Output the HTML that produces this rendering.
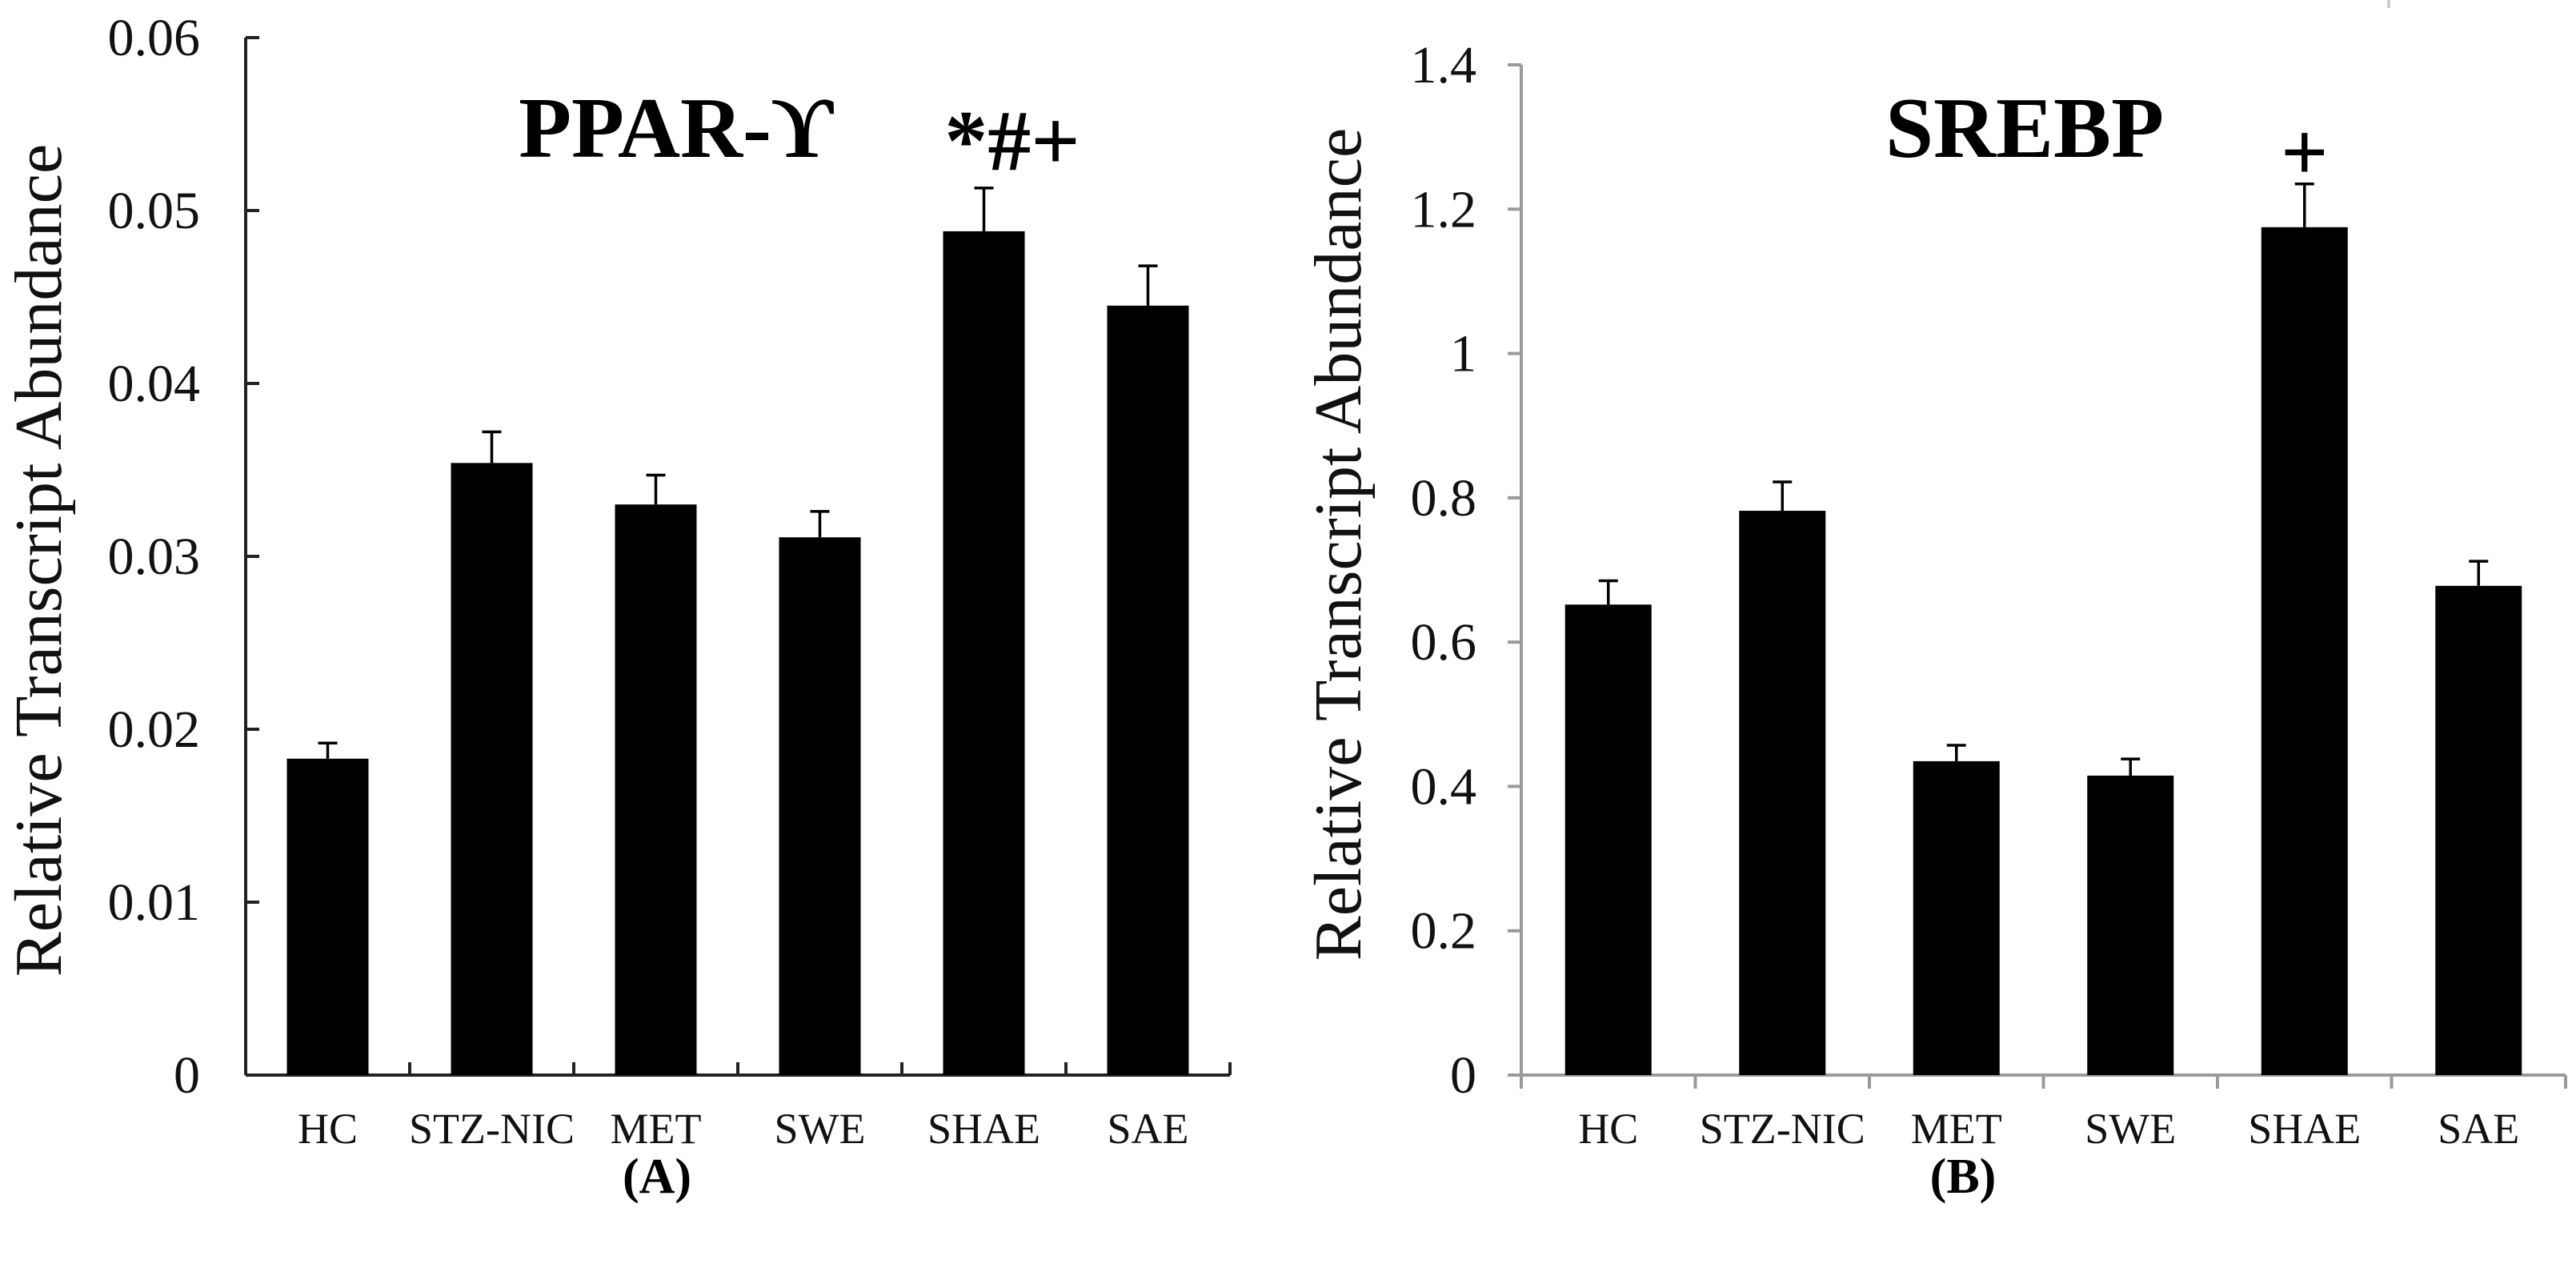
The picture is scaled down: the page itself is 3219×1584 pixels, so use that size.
<!DOCTYPE html>
<html><head><meta charset="utf-8"><style>
html,body{margin:0;padding:0;background:#fff;}
svg{display:block;font-family:"Liberation Serif","Times New Roman",serif;}
</style></head><body>
<svg id="fig" width="3219" height="1584" viewBox="0 0 3219 1584" xmlns="http://www.w3.org/2000/svg">
<g id="panelA"></g>
<g id="panelB"></g>
</svg>
<script>
const categories = ["HC","STZ-NIC","MET","SWE","SHAE","SAE"];
const pparValues = [0.0183,0.0354,0.0330,0.0311,0.0488,0.0445];
const pparErrors = [0.0009,0.0018,0.0017,0.0015,0.0025,0.0023];
const pparTicks = ["0","0.01","0.02","0.03","0.04","0.05","0.06"];
const srebpValues = [0.652,0.782,0.435,0.415,1.175,0.678];
const srebpErrors = [0.033,0.040,0.022,0.023,0.060,0.034];
const srebpTicks = ["0","0.2","0.4","0.6","0.8","1","1.2","1.4"];

const NS="http://www.w3.org/2000/svg";
function mk(parent,tag,attrs,text){
  const e=document.createElementNS(NS,tag);
  for(const k in attrs)e.setAttribute(k,attrs[k]);
  if(text!==undefined)e.textContent=text;
  parent.appendChild(e);return e;
}
function drawPanel(g,cfg){
  const {x0,x1,y0,y1,vmax,values,errors,ticks,barW,axisColor,inward,labelRight,tickFont,yTitleX,yTitleY,catLabelY} = cfg;
  const yScale=v=>y0-(v/vmax)*(y0-y1);
  const bw=(x1-x0)/categories.length;
  const xCenter=i=>x0+bw*(i+0.5);
  const ya=mk(g,'line',{x1:x0,y1:y1,x2:x0,y2:y0,stroke:axisColor,'stroke-width':4});
  
  
  const xa=mk(g,'line',{x1:x0,y1:y0,x2:x1,y2:y0,stroke:axisColor,'stroke-width':4});
  
  
  ticks.forEach((t,i)=>{
    const v=parseFloat(t), y=yScale(v);
    const tk=mk(g,'line',{x1:x0,y1:y,x2:inward?x0+17:x0-17,y2:y,stroke:axisColor,'stroke-width':4});
    
    
    const tl=mk(g,'text',{x:labelRight,y:y+22,'text-anchor':'end','font-size':tickFont,fill:'#111'},t);
    
    
  });
  for(let i=0;i<=categories.length;i++){
    const x=x0+bw*i;
    const tk=mk(g,'line',{x1:x,y1:y0,x2:x,y2:inward?y0-16:y0+17,stroke:axisColor,'stroke-width':4});
    
    
  }
  categories.forEach((c,i)=>{
    const cx=xCenter(i), top=yScale(values[i]), et=yScale(values[i]+errors[i]);
    const el=mk(g,'line',{x1:cx,y1:top,x2:cx,y2:et,stroke:'#000','stroke-width':3.5});
    
    
    const cap=mk(g,'line',{x1:cx-12,y1:et,x2:cx+12,y2:et,stroke:'#000','stroke-width':3.5});
    
    
    const r=mk(g,'rect',{x:cx-barW/2,y:top,width:barW,height:y0-top,fill:'#000'});
    
    
    const lb=mk(g,'text',{x:cx,y:catLabelY,'text-anchor':'middle','font-size':54,fill:'#111'},c);
    
    
  });
  const yt=mk(g,'text',{x:yTitleX,y:yTitleY,'text-anchor':'middle','font-size':84,fill:'#111',transform:`rotate(-90 ${yTitleX} ${yTitleY})`},'Relative Transcript Abundance');
  
  
  return {xCenter,yScale};
}
const gA=document.getElementById('panelA');
const A=drawPanel(gA,{x0:307,x1:1537,y0:1343,y1:47,vmax:0.06,values:pparValues,errors:pparErrors,ticks:pparTicks,barW:102,axisColor:'#222',inward:true,labelRight:250,tickFont:66,yTitleX:76,yTitleY:700,catLabelY:1428});
mk(gA,'text',{x:845,y:196,'text-anchor':'middle','font-size':108,'font-weight':'bold',fill:'#000',},'PPAR-ϒ');
mk(gA,'text',{x:1265,y:212,'text-anchor':'middle','font-size':108,'font-weight':'bold',fill:'#000',},'*#+');
mk(gA,'text',{x:821,y:1490,'text-anchor':'middle','font-size':62,'font-weight':'bold',fill:'#000',},'(A)');

const gB=document.getElementById('panelB');
const B=drawPanel(gB,{x0:1901,x1:3206,y0:1343,y1:81,vmax:1.4,values:srebpValues,errors:srebpErrors,ticks:srebpTicks,barW:108,axisColor:'#9a9a9a',inward:false,labelRight:1845,tickFont:66,yTitleX:1700,yTitleY:680,catLabelY:1428});
mk(gB,'text',{x:2530,y:196,'text-anchor':'middle','font-size':108,'font-weight':'bold',fill:'#000',},'SREBP');
mk(gB,'text',{x:B.xCenter(4),y:225,'text-anchor':'middle','font-size':104,'font-weight':'bold',fill:'#000',},'+');
mk(gB,'text',{x:2453,y:1490,'text-anchor':'middle','font-size':62,'font-weight':'bold',fill:'#000',},'(B)');
mk(gB,'line',{x1:2985,y1:0,x2:2985,y2:10,stroke:'#ccc','stroke-width':4,});
</script>
</body></html>
